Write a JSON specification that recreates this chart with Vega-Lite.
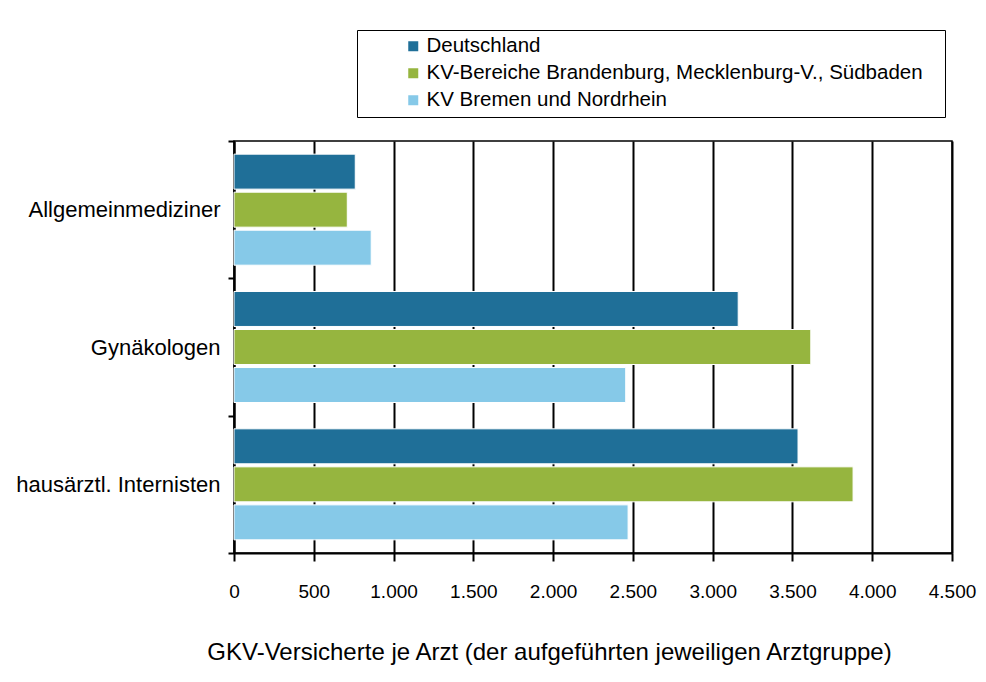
{
  "$schema": "https://vega.github.io/schema/vega-lite/v6.json",
  "width": 718,
  "height": 412,
  "autosize": {"type": "none"},
  "padding": {"left": 234, "top": 141, "right": 34, "bottom": 129},
  "background": "white",
  "config": {"font": "Liberation Sans", "view": {"stroke": "black", "strokeWidth": 1.5}},
  "data": {"values": [
    {"gruppe": "Allgemeinmediziner", "region": "Deutschland", "wert": 760},
    {"gruppe": "Allgemeinmediziner", "region": "KV-Bereiche Brandenburg, Mecklenburg-V., Südbaden", "wert": 710},
    {"gruppe": "Allgemeinmediziner", "region": "KV Bremen und Nordrhein", "wert": 860},
    {"gruppe": "Gynäkologen", "region": "Deutschland", "wert": 3160},
    {"gruppe": "Gynäkologen", "region": "KV-Bereiche Brandenburg, Mecklenburg-V., Südbaden", "wert": 3615},
    {"gruppe": "Gynäkologen", "region": "KV Bremen und Nordrhein", "wert": 2455},
    {"gruppe": "hausärztl. Internisten", "region": "Deutschland", "wert": 3535},
    {"gruppe": "hausärztl. Internisten", "region": "KV-Bereiche Brandenburg, Mecklenburg-V., Südbaden", "wert": 3880},
    {"gruppe": "hausärztl. Internisten", "region": "KV Bremen und Nordrhein", "wert": 2470}
  ]},
  "mark": {"type": "bar", "stroke": "white", "strokeWidth": 1},
  "encoding": {
    "y": {
      "field": "gruppe", "type": "nominal", "sort": null,
      "scale": {"paddingInner": 0, "paddingOuter": 0},
      "axis": {"title": null, "labelFontSize": 22, "labelColor": "black", "labelPadding": 8,
               "labelLimit": 300,
               "domainColor": "black", "domainWidth": 2, "tickColor": "black", "tickWidth": 2,
               "tickSize": 6, "tickBand": "extent"}
    },
    "yOffset": {
      "field": "region", "type": "nominal",
      "sort": ["Deutschland", "KV-Bereiche Brandenburg, Mecklenburg-V., Südbaden", "KV Bremen und Nordrhein"],
      "scale": {"paddingInner": 0.08, "paddingOuter": 0.346}
    },
    "x": {
      "field": "wert", "type": "quantitative",
      "scale": {"domain": [0, 4500], "nice": false},
      "axis": {
        "values": [0, 500, 1000, 1500, 2000, 2500, 3000, 3500, 4000, 4500],
        "labelExpr": "replace(format(datum.value, ','), ',', '.')",
        "labelFlush": false, "labelOverlap": false,
        "grid": true, "gridColor": "black", "gridWidth": 2, "gridOpacity": 1,
        "tickColor": "black", "tickWidth": 2, "tickSize": 8,
        "domainColor": "black", "domainWidth": 2,
        "labelFontSize": 19, "labelColor": "black", "labelPadding": 21,
        "title": "GKV-Versicherte je Arzt (der aufgeführten jeweiligen Arztgruppe)",
        "titleFontSize": 24, "titleFontWeight": "normal", "titleColor": "black",
        "titleX": 315, "titleY": 99, "titleBaseline": "middle", "titleAlign": "center"
      }
    },
    "color": {
      "field": "region", "type": "nominal",
      "scale": {
        "domain": ["Deutschland", "KV-Bereiche Brandenburg, Mecklenburg-V., Südbaden", "KV Bremen und Nordrhein"],
        "range": ["#1F6F98", "#96B53F", "#86C9E8"]
      },
      "legend": {
        "title": ".", "titleOrient": "right", "titleColor": "white", "titleFontSize": 10,
        "titlePadding": 13,
        "orient": "none", "legendX": 123, "legendY": -111,
        "strokeColor": "black", "padding": 6,
        "symbolType": "square", "symbolSize": 100, "symbolStrokeWidth": 0,
        "labelFontSize": 20.5, "labelColor": "black", "labelOffset": 3,
        "rowPadding": 6, "symbolOffset": 40, "labelLimit": 700,
        "encode": {
          "legend": {"update": {"strokeWidth": {"value": 2}}}
        }
      }
    }
  }
}
